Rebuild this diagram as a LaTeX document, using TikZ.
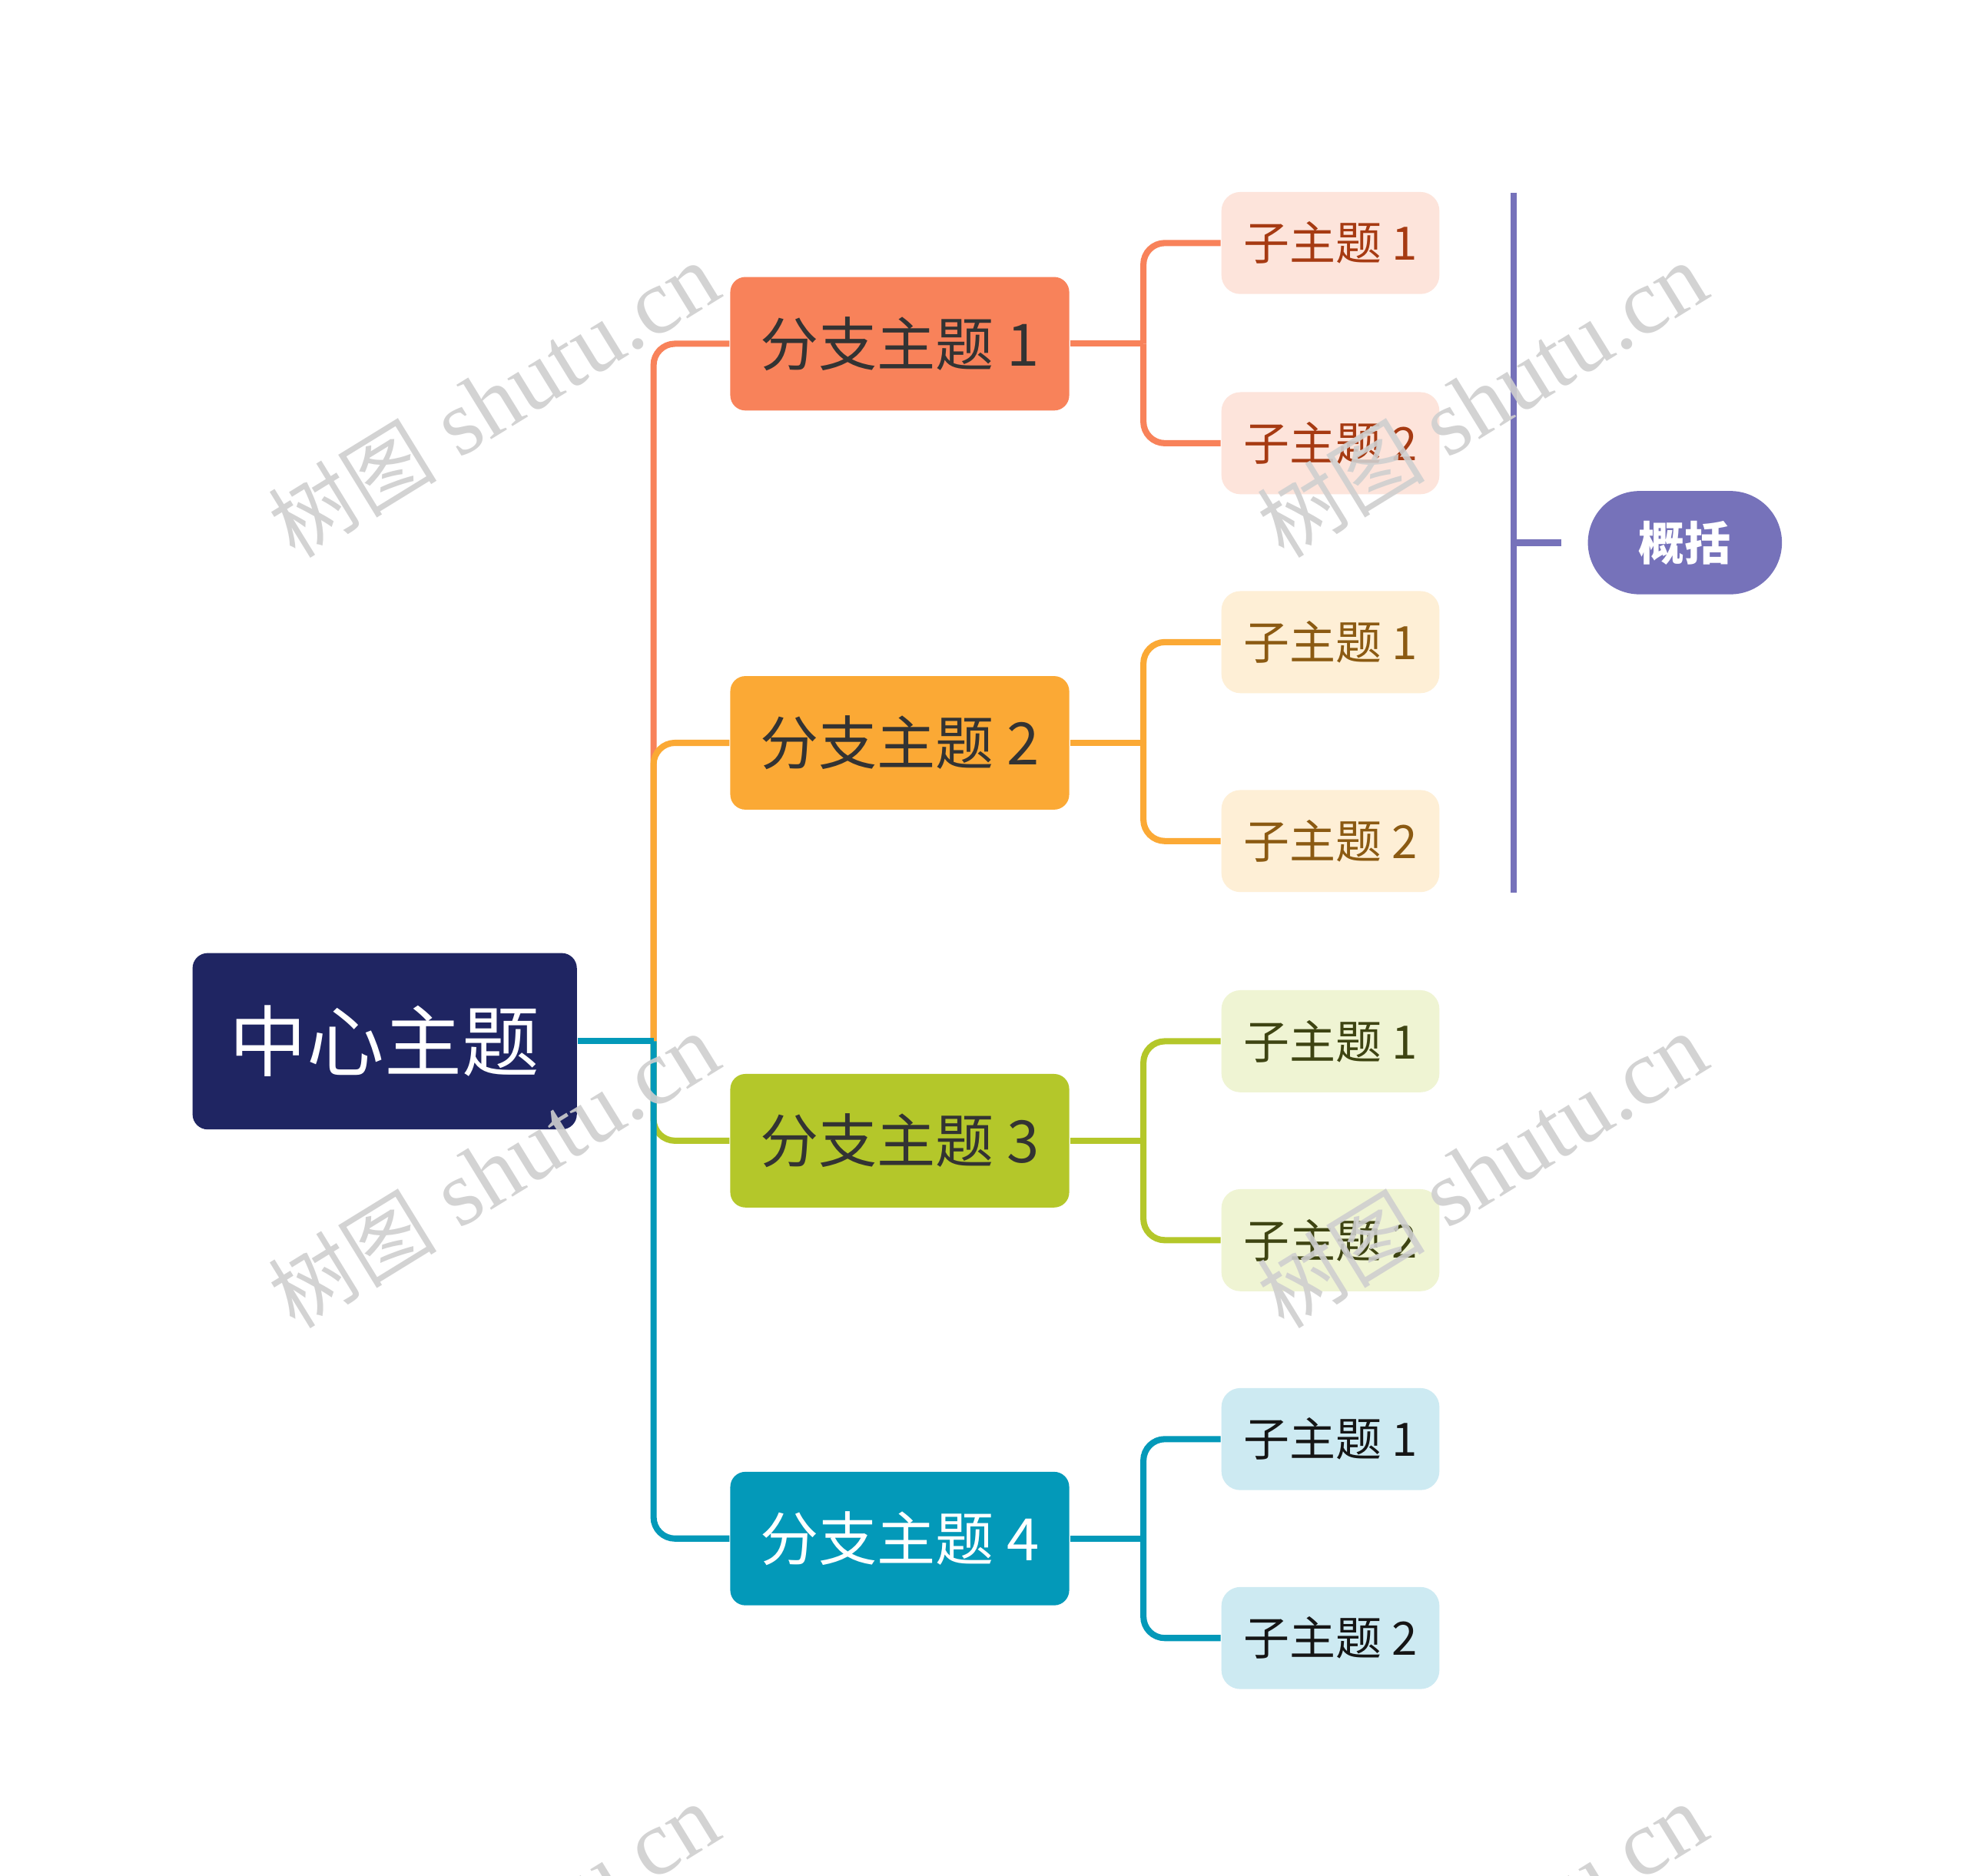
\documentclass[tikz,border=0pt]{standalone}
\usepackage{fontspec}
\newfontfamily\cjk{Noto Sans CJK SC}
\newfontfamily\wmlat{Liberation Serif}
\definecolor{cnavy}{HTML}{1F2562}
\definecolor{bone}{HTML}{F8825A}
\definecolor{btwo}{HTML}{FBA935}
\definecolor{bthree}{HTML}{B4C72A}
\definecolor{bfour}{HTML}{0399B9}
\definecolor{fone}{HTML}{FDE4DB}
\definecolor{ftwo}{HTML}{FEEFD6}
\definecolor{fthree}{HTML}{EFF4D3}
\definecolor{ffour}{HTML}{CDEAF2}
\definecolor{tone}{HTML}{A63A12}
\definecolor{ttwo}{HTML}{8B5A12}
\definecolor{tthree}{HTML}{3E4412}
\definecolor{tfour}{HTML}{151515}
\definecolor{sumc}{HTML}{7672BA}
\definecolor{wmc}{HTML}{CFCFCF}
\tikzset{
  centerbox/.style={fill=cnavy, rounded corners=0.12cm, minimum width=3.05cm, minimum height=1.40cm, inner sep=0pt, text=white, font=\cjk\fontsize{17.5pt}{20pt}\selectfont},
  branchbox/.style={fill=#1, rounded corners=0.12cm, minimum width=2.69cm, minimum height=1.06cm, inner sep=0pt, font=\cjk\fontsize{13.2pt}{16pt}\selectfont},
  childbox/.style={rounded corners=0.15cm, minimum width=1.73cm, minimum height=0.81cm, inner sep=0pt, font=\cjk\fontsize{10.4pt}{12pt}\selectfont},
  sumbox/.style={fill=sumc, rounded corners=0.41cm, minimum width=1.54cm, minimum height=0.82cm, inner sep=0pt, text=white, font=\cjk\bfseries\fontsize{10.4pt}{12pt}\selectfont},
  conn/.style={line width=1.4pt, rounded corners=0.17cm, draw=#1},
  wmark/.style={text=wmc, opacity=0.9, rotate=31.6, inner sep=0pt},
}
\begin{document}
\begin{tikzpicture}[x=0.01cm, y=-0.01cm]
\useasboundingbox (0,0) rectangle (1562,1490);
\fill[white] (0,0) rectangle (1562,1490);

\coordinate (hub) at (519,827);
\coordinate (ja) at (908,273);
\coordinate (jb) at (908,590);
\coordinate (jc) at (908,906);
\coordinate (jd) at (908,1222);

% nodes
\node[centerbox] (c) at (305.5,827) {中心主题};
\node[branchbox=bone, text=black!80] (b1) at (714.5,273) {分支主题 1};
\node[branchbox=btwo, text=black!80] (b2) at (714.5,590) {分支主题 2};
\node[branchbox=bthree, text=black!80] (b3) at (714.5,906) {分支主题 3};
\node[branchbox=bfour, text=white] (b4) at (714.5,1222) {分支主题 4};

\node[childbox, fill=fone, text=tone] (c11) at (1056.5,193) {子主题 1};
\node[childbox, fill=fone, text=tone] (c12) at (1056.5,352) {子主题 2};
\node[childbox, fill=ftwo, text=ttwo] (c21) at (1056.5,510) {子主题 1};
\node[childbox, fill=ftwo, text=ttwo] (c22) at (1056.5,668) {子主题 2};
\node[childbox, fill=fthree, text=tthree] (c31) at (1056.5,827) {子主题 1};
\node[childbox, fill=fthree, text=tthree] (c32) at (1056.5,985) {子主题 2};
\node[childbox, fill=ffour, text=tfour] (c41) at (1056.5,1143) {子主题 1};
\node[childbox, fill=ffour, text=tfour] (c42) at (1056.5,1301) {子主题 2};

\node[sumbox] (s) at (1338,431) {概括};

% main connectors
\draw[conn=bone] (hub) |- (b1.west);
\draw[conn=btwo] (hub) |- (b2.west);
\draw[conn=bthree] (hub) |- (b3.west);
\draw[conn=bfour] (hub) |- (b4.west);
\draw[conn=bfour] (c.east) -- (hub);

% sub connectors
\draw[conn=bone] (b1.east) -- (ja);
\draw[conn=bone] (ja) |- (c11.west);
\draw[conn=bone] (ja) |- (c12.west);
\draw[conn=btwo] (b2.east) -- (jb);
\draw[conn=btwo] (jb) |- (c21.west);
\draw[conn=btwo] (jb) |- (c22.west);
\draw[conn=bthree] (b3.east) -- (jc);
\draw[conn=bthree] (jc) |- (c31.west);
\draw[conn=bthree] (jc) |- (c32.west);
\draw[conn=bfour] (b4.east) -- (jd);
\draw[conn=bfour] (jd) |- (c41.west);
\draw[conn=bfour] (jd) |- (c42.west);

% summary bracket
\coordinate (st) at (1202,153);
\coordinate (sb) at (1202,709);
\coordinate (sm) at (1202,431);
\coordinate (se) at (1240,431);
\draw[line width=1.5pt, draw=sumc] (st) -- (sb);
\draw[line width=1.5pt, draw=sumc] (sm) -- (se);

% watermarks
\foreach \wx/\wy in {392/318, 1177/318, 392/930, 1177/930, 392/1542, 1177/1542}{
  \node[wmark] at (\wx,\wy) {{\cjk\fontsize{19pt}{22pt}\selectfont 树图}{\wmlat\fontsize{21pt}{22pt}\selectfont\ shutu.cn}};
}
\end{tikzpicture}
\end{document}
